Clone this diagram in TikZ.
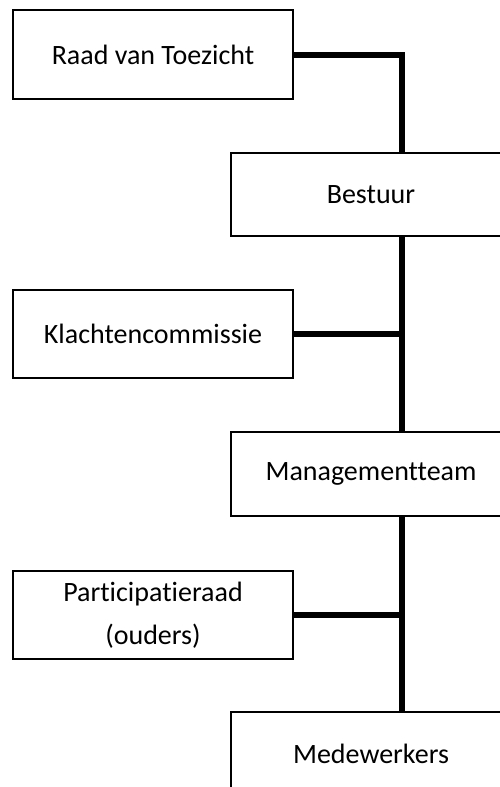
\documentclass[tikz,border=0pt]{standalone}
\usepackage{fontspec}
\setmainfont{Carlito}[Ligatures=NoCommon]
\begin{document}
\begin{tikzpicture}[x=1pt,y=-1pt,
  box/.style={draw=black, line width=1.5pt, fill=white, rectangle, minimum width=280pt, align=center, inner sep=0pt, font=\fontsize{28}{43}\selectfont},
  conn/.style={draw=black, line width=6pt}]
\useasboundingbox (0,0) rectangle (500,787);
\coordinate (spine) at (402,0);
\node[box, minimum height=89pt] (raad) at (153,54.5) {Raad van Toezicht};
\node[box, minimum height=83pt] (bestuur) at (371,194.5) {Bestuur};
\node[box, minimum height=88pt] (klacht) at (153,334) {Klachtencommissie};
\node[box, minimum height=84pt] (mt) at (371,474) {Managementteam};
\node[box, minimum height=88pt] (part) at (153,615) {Participatieraad\\(ouders)};
\node[box, minimum height=84pt] (mw) at (371,754) {Medewerkers};
\draw[conn] (raad.east) -| (bestuur.north -| spine);
\draw[conn] (bestuur.south -| spine) -- (mt.north -| spine);
\draw[conn] (mt.south -| spine) -- (mw.north -| spine);
\draw[conn] (klacht.east) -- (klacht.east -| spine);
\draw[conn] (part.east) -- (part.east -| spine);
\end{tikzpicture}
\end{document}
